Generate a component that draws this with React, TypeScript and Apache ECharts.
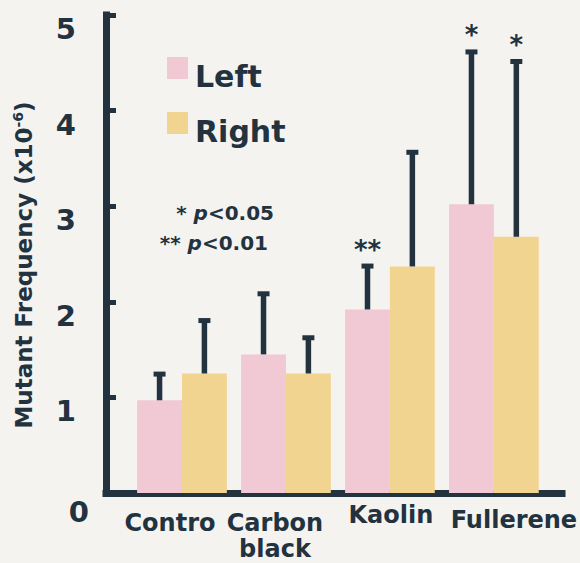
import React, { useEffect, useRef } from 'react';
import * as echarts from 'echarts';

const categories = ['Contro', 'Carbon\nblack', 'Kaolin', 'Fullerene'];
const seriesNames = ['Left', 'Right'];
const leftMeans = [0.97, 1.45, 1.92, 3.02];
const leftErrors = [0.3, 0.66, 0.48, 1.62];
const rightMeans = [1.25, 1.25, 2.37, 2.68];
const rightErrors = [0.58, 0.4, 1.22, 1.86];
const leftSig = ['', '', '**', '*'];
const rightSig = ['', '', '', '*'];
const yMin = 0;
const yMax = 5;
const yInterval = 1;
const pNotes = ['* ', '** '];
const pValues = ['<0.05', '<0.01'];

const NAVY = '#22323f';
const PINK = '#f0c9d5';
const YELLOW = '#f1d48f';
const BG = '#f4f3ef';
const FONT = '"DejaVu Sans", sans-serif';
const GAP = 0.137;

export default function App() {
  const ref = useRef<HTMLDivElement>(null);
  useEffect(() => {
    if (!ref.current) return;
    const chart = echarts.init(ref.current, undefined, { renderer: 'svg' });

    const errSeries = (side: number, means: number[], errs: number[], sig: string[], name: string) => ({
      type: 'custom',
      name: name + ' error',
      xAxisIndex: 0,
      yAxisIndex: 0,
      z: 5,
      silent: true,
      data: means.map((m, i) => [i, m, errs[i]]),
      renderItem: (params: any, api: any) => {
        const cat = api.value(0);
        const mean = api.value(1);
        const err = api.value(2);
        const base = api.coord([cat, mean]);
        const top = api.coord([cat, mean + err]);
        const band = api.size([1, 0])[0];
        const barW = (band * (1 - GAP)) / 2;
        const x = base[0] + (side * barW) / 2;
        const children: any[] = [
          { type: 'line', shape: { x1: x, y1: base[1], x2: x, y2: top[1] + 2 }, style: { stroke: NAVY, lineWidth: 5.5 } },
          { type: 'rect', shape: { x: x - 6, y: top[1], width: 12, height: 5 }, style: { fill: NAVY } },
        ];
        const s = sig[params.dataIndex];
        if (s) {
          children.push({
            type: 'text',
            x: x,
            y: top[1] - 1,
            style: { text: s, fontSize: 26, fontWeight: 'bold', fontFamily: FONT, fill: NAVY, align: 'center', verticalAlign: 'bottom' },
          });
        }
        return { type: 'group', children };
      },
    });

    const catRich: any = {};
    const catShift = [
      { padding: [0, 24, 0, 0], lineHeight: 26 },
      { padding: [0, 22, 0, 0], lineHeight: 26 },
      { padding: [0, 0, 0, 2], lineHeight: 10 },
      { padding: [0, 0, 0, 40], lineHeight: 20 },
    ];
    catShift.forEach((c, i) => {
      catRich['c' + i] = { fontSize: 24, fontWeight: 'bold', fontFamily: FONT, color: NAVY, ...c };
    });

    const option: any = {
      animation: false,
      backgroundColor: BG,
      grid: [
        { left: 130, width: 417, top: 15, height: 478 },
        { left: 106, width: 456, top: 15, height: 478 },
      ],
      legend: {
        data: seriesNames,
        orient: 'vertical',
        left: 162,
        top: 52,
        itemWidth: 21,
        itemHeight: 38,
        itemGap: 17,
        icon: 'path://M0,0L21,0L21,22L0,22Z M0,38L0.05,38L0,38.05Z',
        symbolKeepAspect: false,
        selectedMode: false,
        textStyle: { fontFamily: FONT, fontWeight: 'bold', fontSize: 30, color: NAVY, padding: [0, 0, 0, 2] },
      },
      xAxis: [
        {
          type: 'category',
          gridIndex: 0,
          data: categories,
          axisLine: { show: false },
          axisTick: { show: false },
          axisLabel: {
            margin: 17,
            interval: 0,
            formatter: (v: string, i: number) => v.split('\n').map((l) => `{c${i}|${l}}`).join('\n'),
            rich: catRich,
          },
        },
        {
          type: 'value',
          gridIndex: 1,
          axisLine: { show: true, lineStyle: { color: NAVY, width: 7, cap: 'square' } },
          axisTick: { show: false },
          axisLabel: { show: false },
          splitLine: { show: false },
        },
      ],
      yAxis: [
        { type: 'value', gridIndex: 0, min: yMin, max: yMax, interval: yInterval, show: false },
        {
          type: 'value',
          gridIndex: 1,
          min: yMin,
          max: yMax,
          interval: yInterval,
          splitLine: { show: false },
          axisLine: { show: true, lineStyle: { color: NAVY, width: 7, cap: 'square' } },
          axisTick: { show: true, inside: true, length: 10, lineStyle: { color: NAVY, width: 5 } },
          axisLabel: {
            margin: 17,
            padding: [28, 0, 0, 0],
            formatter: (v: number) => (v === 0 ? `{z|${v}}` : `{n|${v}}`),
            rich: {
              n: { fontSize: 29, fontWeight: 'bold', fontFamily: FONT, color: NAVY, padding: [0, 13, 0, 0] },
              z: { fontSize: 29, fontWeight: 'bold', fontFamily: FONT, color: NAVY, padding: [10, 0, 0, 0] },
            },
          },
        },
      ],
      graphic: [
        {
          type: 'text',
          x: 24,
          y: 265,
          rotation: Math.PI / 2,
          style: {
            text: '{m|Mutant Frequency (x10}{s|-6}{m|)}',
            align: 'center',
            verticalAlign: 'middle',
            rich: {
              m: { fontSize: 23, fontWeight: 'bold', fontFamily: FONT, fill: NAVY },
              s: { fontSize: 14, fontWeight: 'bold', fontFamily: FONT, fill: NAVY, padding: [0, 0, 12, 0] },
            },
          },
        },
        ...pNotes.map((n, i) => ({
          type: 'text',
          x: i === 0 ? 274 : 268,
          y: i === 0 ? 213 : 243,
          style: {
            text: `{a|${n}}{p|p}{a|${pValues[i]}}`,
            align: 'right',
            verticalAlign: 'middle',
            rich: {
              a: { fontSize: 20, fontWeight: 'bold', fontFamily: FONT, fill: NAVY },
              p: { fontSize: 20, fontWeight: 'bold', fontStyle: 'italic', fontFamily: FONT, fill: NAVY },
            },
          },
        })),
      ],
      series: [
        {
          name: 'Left',
          type: 'bar',
          xAxisIndex: 0,
          yAxisIndex: 0,
          data: leftMeans,
          barGap: '0%',
          barCategoryGap: GAP * 100 + '%',
          itemStyle: { color: PINK },
        },
        {
          name: 'Right',
          type: 'bar',
          xAxisIndex: 0,
          yAxisIndex: 0,
          data: rightMeans,
          barGap: '0%',
          barCategoryGap: GAP * 100 + '%',
          itemStyle: { color: YELLOW },
        },
        errSeries(-1, leftMeans, leftErrors, leftSig, 'Left'),
        errSeries(1, rightMeans, rightErrors, rightSig, 'Right'),
      ],
    };
    chart.setOption(option);
    return () => chart.dispose();
  }, []);

  return (
    <div style={{ position: 'fixed', left: 0, top: 0, width: 580, height: 563, background: BG }}>
      <div ref={ref} style={{ width: 580, height: 563 }} />
    </div>
  );
}
